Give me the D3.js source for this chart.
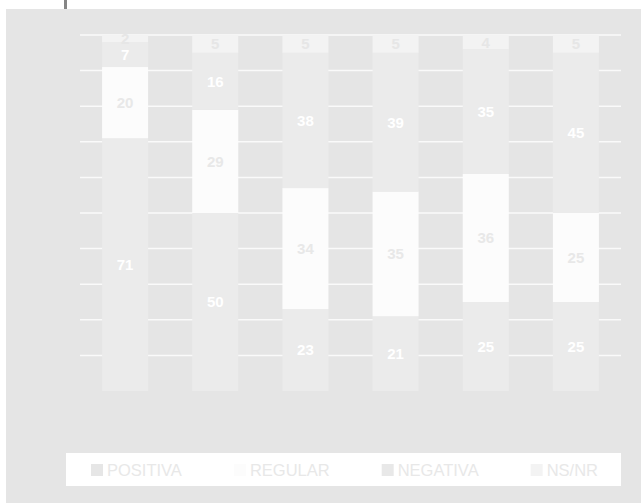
<!DOCTYPE html>
<html>
<head>
<meta charset="utf-8">
<script src="https://cdn.jsdelivr.net/npm/d3@7"></script>
<style>
  body { margin: 0; background: #fff; }
  svg { display: block; font-family: "Liberation Sans", Arial, sans-serif; }
</style>
</head>
<body>
<div id="container"></div>
<script>
var categories = ["1", "2", "3", "4", "5", "6"];
var seriesNames = ["POSITIVA", "REGULAR", "NEGATIVA", "NS/NR"];
var positiva = [71, 50, 23, 21, 25, 25];
var regular = [20, 29, 34, 35, 36, 25];
var negativa = [7, 16, 38, 39, 35, 45];
var nsnr = [2, 5, 5, 5, 4, 5];
var gridTicks = [10, 20, 30, 40, 50, 60, 70, 80, 90, 100];

var seriesValues = [positiva, regular, negativa, nsnr];
var fills = ["#ebebeb", "#fcfcfc", "#ebebeb", "#f3f3f3"];
var legendFills = ["#e6e6e6", "#fcfcfc", "#e8e8e8", "#f3f3f3"];
var labelColors = ["#ffffff", "#e8e8e8", "#ffffff", "#e6e6e6"];

var width = 641;
var height = 503;

var rows = categories.map(function(c, i) {
  var r = { cat: c };
  seriesNames.forEach(function(s, k) { r[s] = seriesValues[k][i]; });
  return r;
});

var svg = d3.select("#container")
  .append("svg")
  .attr("width", width)
  .attr("height", height);

// panel background
svg.append("rect")
  .attr("x", 6)
  .attr("y", 9)
  .attr("width", width - 6)
  .attr("height", height - 9)
  .attr("fill", "#e5e5e5");

// small mark at top
svg.append("rect")
  .attr("x", 64)
  .attr("y", 0)
  .attr("width", 3)
  .attr("height", 9)
  .attr("fill", "#858585");

var x = d3.scaleBand()
  .domain(categories)
  .range([80, 621])
  .paddingInner(0.49)
  .paddingOuter(0.245);

var y = d3.scaleLinear()
  .domain([0, 100])
  .range([391, 35]);

// gridlines
svg.append("g")
  .selectAll("line")
  .data(gridTicks)
  .enter()
  .append("line")
  .attr("x1", 80)
  .attr("x2", 621)
  .attr("y1", d => y(d))
  .attr("y2", d => y(d))
  .attr("stroke", "#fafafa")
  .attr("stroke-width", 1.5);

var stacked = d3.stack().keys(seriesNames)(rows);

var layers = svg.selectAll("g.layer")
  .data(stacked)
  .enter()
  .append("g")
  .attr("class", "layer")
  .attr("fill", (d, i) => fills[i]);

layers.selectAll("rect")
  .data(d => d)
  .enter()
  .append("rect")
  .attr("x", d => x(d.data.cat))
  .attr("y", d => y(d[1]))
  .attr("width", x.bandwidth())
  .attr("height", d => y(d[0]) - y(d[1]));

// value labels
svg.selectAll("g.labels")
  .data(stacked)
  .enter()
  .append("g")
  .attr("class", "labels")
  .attr("fill", (d, i) => labelColors[i])
  .selectAll("text")
  .data(d => d)
  .enter()
  .append("text")
  .attr("x", d => x(d.data.cat) + x.bandwidth() / 2)
  .attr("y", d => (y(d[0]) + y(d[1])) / 2)
  .attr("dy", "0.36em")
  .attr("text-anchor", "middle")
  .style("font-size", "15px")
  .style("font-weight", "bold")
  .text(d => d[1] - d[0]);

// legend
svg.append("rect")
  .attr("x", 66)
  .attr("y", 453)
  .attr("width", 555)
  .attr("height", 33)
  .attr("fill", "#ffffff");

var lx = 91;
seriesNames.forEach(function(name, i) {
  svg.append("rect")
    .attr("x", lx)
    .attr("y", 464)
    .attr("width", 12)
    .attr("height", 12)
    .attr("fill", legendFills[i]);
  var t = svg.append("text")
    .attr("x", lx + 16)
    .attr("y", 476)
    .attr("fill", "#e8e8e8")
    .style("font-size", "16.5px")
    .text(name);
  lx = lx + 16 + t.node().getComputedTextLength() + 52;
});
</script>
</body>
</html>
